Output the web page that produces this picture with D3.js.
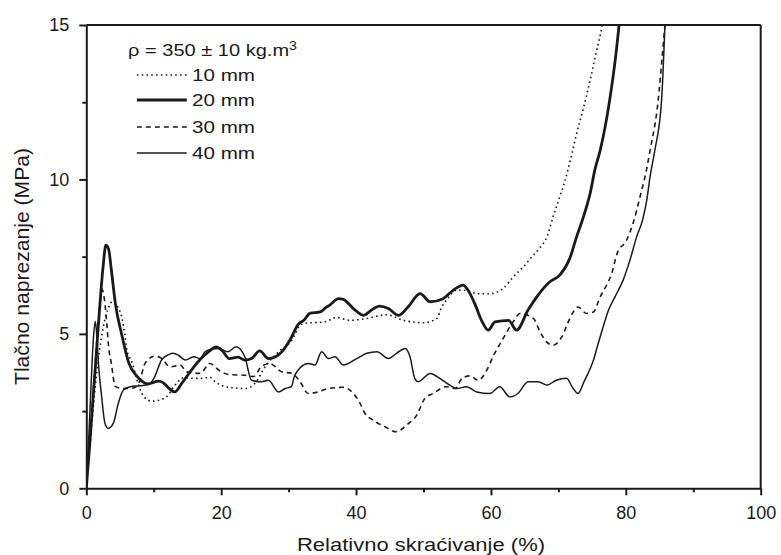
<!DOCTYPE html>
<html>
<head>
<meta charset="utf-8">
<script src="https://cdn.jsdelivr.net/npm/d3@7/dist/d3.min.js"></script>
<style>
  html, body { margin: 0; padding: 0; background: #fff; }
  svg { display: block; }
  text { font-family: "Liberation Sans", Arial, sans-serif; fill: #1a1a1a; }
</style>
</head>
<body>
<svg id="chart" width="781" height="555"></svg>
<script>
// ---- data ----
const seriesNames = ["10 mm", "20 mm", "30 mm", "40 mm"];

const s10 = [[0,0],[0.6,1.5],[1.2,3.0],[1.8,4.2],[2.5,5.2],[3.2,5.8],[3.9,6.05],[4.6,5.9],[5.3,5.5],[5.7,5.0],[6.0,4.5],[6.8,4.06],[7.5,3.52],[8.5,2.98],[9.7,2.82],[11.2,2.88],[12,2.98],[13,3.3],[14.5,3.58],[16,3.56],[17.1,3.56],[18.3,3.6],[19.1,3.45],[20.6,3.29],[22,3.25],[23.5,3.23],[25,3.4],[26.5,3.93],[28.5,4.42],[30.5,4.8],[31.7,5.28],[32.4,5.34],[35.4,5.39],[37.1,5.53],[39.1,5.44],[41.6,5.5],[44.5,5.62],[47,5.44],[50,5.36],[52,5.5],[52.7,5.87],[53.5,6.12],[55,6.42],[56.5,6.4],[57.9,6.3],[59.85,6.3],[61.8,6.47],[63.3,6.84],[64.8,7.17],[66.3,7.55],[67.3,7.8],[68.3,8.14],[69.2,8.78],[70.2,9.43],[71,9.97],[72,10.83],[72.7,11.48],[73.7,12.3],[74.7,13.2],[75.6,14.1],[76.4,14.88],[76.5,15]];

const s20 = [[0,0],[0.5,1.4],[1.0,2.9],[1.5,4.4],[2.0,5.9],[2.5,7.2],[2.9,7.87],[3.3,7.75],[3.7,7.1],[4.3,6.0],[5.3,4.93],[6.3,4.06],[7.5,3.63],[9.2,3.38],[10.7,3.47],[11.4,3.42],[12.2,3.25],[13.1,3.12],[14.2,3.41],[15.5,3.8],[17,4.2],[18.3,4.45],[19.2,4.58],[20.2,4.45],[21.2,4.2],[22.5,4.25],[23.5,4.15],[24.5,4.2],[25.7,4.45],[27,4.2],[28,4.25],[29,4.42],[30.2,4.8],[31.4,5.3],[32.3,5.45],[33.2,5.67],[34.7,5.71],[35.5,5.85],[36.1,5.93],[37.4,6.14],[38.1,6.12],[39.6,5.82],[41.1,5.6],[42.3,5.77],[43.5,5.9],[44.8,5.82],[46.3,5.6],[47.7,5.87],[49.5,6.3],[51,6.04],[52.9,6.14],[54.4,6.41],[55.9,6.58],[56.6,6.41],[57.6,5.98],[58.6,5.44],[59.6,5.12],[60.6,5.39],[62.6,5.44],[63.8,5.12],[65.5,5.77],[66.8,6.2],[68.7,6.68],[70.2,6.9],[71.7,7.45],[72.7,8.14],[73.7,8.78],[74.7,9.54],[75.4,10.3],[76.2,10.94],[77.6,12.56],[78.6,14.18],[79.0,15]];

const s30 = [[0,0],[0.5,1.5],[1.0,3.0],[1.5,4.6],[2.0,5.9],[2.33,6.44],[2.8,5.9],[3.07,5.25],[3.3,4.6],[3.7,4.06],[4.3,3.3],[5.5,3.23],[7.0,3.25],[7.8,3.41],[8.75,4.06],[10.2,4.28],[11.2,4.2],[12.4,3.93],[13.9,3.99],[14.9,3.77],[16.9,3.72],[18.3,4.04],[19.8,3.8],[21.3,3.68],[23.5,3.66],[24.8,3.62],[26,3.95],[27.2,4.04],[29,3.77],[30.5,3.72],[31.7,3.45],[32.9,3.07],[34.4,3.12],[35.9,3.23],[38.1,3.27],[39.6,3.07],[40.6,2.75],[41.3,2.43],[42.5,2.21],[44.3,1.99],[46,1.83],[47.5,2.05],[49,2.37],[50.2,2.91],[51.4,3.07],[53.4,3.29],[54.7,3.23],[55.7,3.56],[56.9,3.64],[58.1,3.5],[59.4,3.83],[60.3,4.26],[61.8,4.85],[63.3,5.39],[64.3,5.66],[66.3,5.5],[67.3,5.06],[68.25,4.74],[69.2,4.63],[70.5,4.9],[71.7,5.5],[72.9,5.87],[74.2,5.66],[75.2,5.71],[76.2,6.2],[77.2,6.6],[77.9,6.95],[78.7,7.6],[80.1,8.03],[81.1,8.6],[82.1,9.43],[83.1,10.35],[83.6,10.94],[84.8,12.56],[85.4,14.0],[85.8,15]];

const s40 = [[0,0],[0.4,1.8],[0.8,3.8],[1.1,5.0],[1.35,5.4],[1.6,4.8],[1.8,4.05],[2.28,2.96],[2.77,2.1],[3.26,1.94],[4.0,2.1],[4.74,2.75],[5.5,3.18],[6.5,3.29],[8,3.32],[9.25,3.36],[10,3.55],[11.2,4.17],[12.2,4.33],[12.9,4.37],[13.7,4.3],[14.7,4.15],[15.9,4.26],[16.9,4.2],[17.6,4.42],[18.5,4.5],[19.6,4.53],[21,4.42],[22.2,4.58],[23.5,4.26],[24.5,3.5],[26,3.45],[27,3.5],[28.5,3.12],[29.5,3.23],[30.4,3.29],[30.9,3.66],[32.9,4.04],[33.9,3.99],[34.9,4.42],[35.9,4.2],[36.9,4.26],[38.1,3.99],[40.1,4.2],[41.6,4.37],[43.1,4.42],[44.8,4.2],[46,4.37],[47.3,4.53],[48,4.26],[48.7,3.56],[49.2,3.45],[51,3.72],[52.4,3.56],[53.9,3.34],[54.9,3.23],[56.4,3.29],[57.9,3.12],[59.85,3.07],[61.3,3.29],[62.8,2.96],[64,3.07],[65.5,3.45],[67,3.45],[68.3,3.34],[69.7,3.5],[71.2,3.56],[72.2,3.23],[72.9,3.07],[73.8,3.45],[75.2,4.15],[75.9,4.69],[76.6,5.2],[77.4,5.75],[78.4,6.2],[79.6,6.74],[80.6,7.38],[81.6,8.14],[82.5,8.7],[83.1,9.32],[83.6,10.1],[84.3,10.94],[85.3,12.56],[85.8,15]];

const xTicks = [0, 20, 40, 60, 80, 100];
const xMinorTicks = [10, 30, 50, 70, 90];
const yTicks = [0, 5, 10, 15];
const yMinorTicks = [2.5, 7.5, 12.5];
const xTitle = "Relativno skraćivanje (%)";
const yTitle = "Tlačno naprezanje (MPa)";

// ---- layout ----
const svg = d3.select("#chart");
const L = 86.3, R = 760.7, T = 25, B = 488.3;
const x = d3.scaleLinear().domain([0, 100]).range([L, R]);
const y = d3.scaleLinear().domain([0, 15]).range([B, T]);
const ink = "#1a1a1a";

svg.append("defs").append("clipPath").attr("id", "clip")
  .append("rect").attr("x", L).attr("y", T).attr("width", R - L).attr("height", B - T);

// series
const styles = [
  { data: s10, width: 1.6, dash: "1.6,3.2" },
  { data: s20, width: 2.8, dash: null },
  { data: s30, width: 1.6, dash: "5,4" },
  { data: s40, width: 1.5, dash: null }
];
const line = d3.line().x(d => x(d[0])).y(d => y(d[1])).curve(d3.curveMonotoneX);
const g = svg.append("g").attr("clip-path", "url(#clip)");
styles.forEach(s => {
  g.append("path").datum(s.data)
    .attr("d", line)
    .attr("fill", "none")
    .attr("stroke", ink)
    .attr("stroke-width", s.width)
    .attr("stroke-linejoin", "round")
    .attr("stroke-dasharray", s.dash);
});

// axes
function styleAxis(sel) {
  sel.selectAll("path, line").attr("stroke", ink).attr("stroke-width", 2);
  sel.selectAll("text").attr("fill", ink).style("font-size", "18px")
    .style("font-family", "'Liberation Sans', Arial, sans-serif");
}
const xAxis = svg.append("g").attr("transform", `translate(0,${B})`)
  .call(d3.axisBottom(x).tickValues(xTicks).tickSize(7).tickSizeOuter(0).tickPadding(11).tickFormat(d3.format("d")));
styleAxis(xAxis);
const xMinor = svg.append("g").attr("transform", `translate(0,${B})`)
  .call(d3.axisBottom(x).tickValues(xMinorTicks).tickSize(4).tickSizeOuter(0).tickFormat(""));
styleAxis(xMinor);
xMinor.select("path").remove();

const yAxis = svg.append("g").attr("transform", `translate(${L},0)`)
  .call(d3.axisLeft(y).tickValues(yTicks).tickSize(7).tickSizeOuter(0).tickPadding(10).tickFormat(d3.format("d")));
styleAxis(yAxis);
const yMinor = svg.append("g").attr("transform", `translate(${L},0)`)
  .call(d3.axisLeft(y).tickValues(yMinorTicks).tickSize(4).tickSizeOuter(0).tickFormat(""));
styleAxis(yMinor);
yMinor.select("path").remove();

// frame top & right
svg.append("line").attr("x1", L).attr("x2", R).attr("y1", T).attr("y2", T).attr("stroke", ink).attr("stroke-width", 2);
svg.append("line").attr("x1", R).attr("x2", R).attr("y1", T).attr("y2", B).attr("stroke", ink).attr("stroke-width", 2);

// titles
svg.append("text").attr("x", (297 + 545) / 2).attr("y", 551)
  .attr("text-anchor", "middle").style("font-size", "19px")
  .attr("textLength", 248).attr("lengthAdjust", "spacingAndGlyphs")
  .text(xTitle);
svg.append("text").attr("transform", `translate(29,${(148 + 385) / 2}) rotate(-90)`)
  .attr("text-anchor", "middle").style("font-size", "20px")
  .attr("textLength", 237).attr("lengthAdjust", "spacingAndGlyphs")
  .text(yTitle);

// legend
const hdr = svg.append("text").attr("x", 128).attr("y", 56).style("font-size", "17px")
  .attr("textLength", 169).attr("lengthAdjust", "spacingAndGlyphs");
hdr.append("tspan").text("ρ = 350 ± 10 kg.m");
hdr.append("tspan").attr("dy", -6).style("font-size", "12px").text("3");

const legY = [75, 100, 127, 153];
styles.forEach((s, i) => {
  svg.append("line").attr("x1", x(7.5)).attr("x2", x(14.9))
    .attr("y1", legY[i]).attr("y2", legY[i])
    .attr("stroke", ink).attr("stroke-width", s.width).attr("stroke-dasharray", s.dash);
  svg.append("text").attr("x", 192).attr("y", legY[i] + 6).style("font-size", "17px")
    .attr("textLength", 63).attr("lengthAdjust", "spacingAndGlyphs")
    .text(seriesNames[i]);
});
</script>
</body>
</html>
